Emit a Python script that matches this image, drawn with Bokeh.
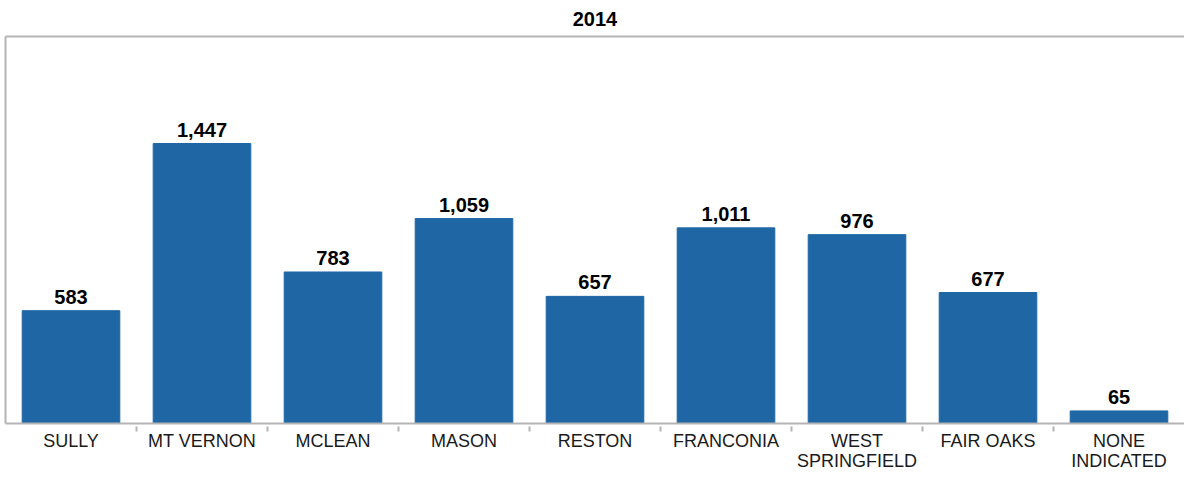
from bokeh.plotting import figure
from bokeh.models import (FactorRange, Range1d, LinearAxis, CategoricalAxis,
                          FixedTicker, ColumnDataSource, CustomJSTickFormatter)
from bokeh.core.properties import value
from bokeh.embed import file_html
from bokeh.resources import INLINE

header = "2014"
categories = ["SULLY", "MT VERNON", "MCLEAN", "MASON", "RESTON", "FRANCONIA",
              "WEST SPRINGFIELD", "FAIR OAKS", "NONE INDICATED"]
tick_labels = ["SULLY", "MT VERNON", "MCLEAN", "MASON", "RESTON", "FRANCONIA",
               "WEST\nSPRINGFIELD", "FAIR OAKS", "NONE\nINDICATED"]
counts = [583, 1447, 783, 1059, 657, 1011, 976, 677, 65]

FONT = "Liberation Sans"
GRAY = "#b4b4b4"
BAR = "#1f66a5"

src = ColumnDataSource(dict(cat=categories, val=counts,
                            lbl=[f"{v:,}" for v in counts]))

p = figure(x_range=FactorRange(*categories, range_padding=0),
           y_range=Range1d(0, 2000),
           width=1184, height=484, output_backend="svg",
           toolbar_location=None, x_axis_location=None, y_axis_location=None,
           min_border_left=5, min_border_right=0, min_border_top=36,
           min_border_bottom=61)
p.outline_line_color = None
p.grid.visible = False
p.background_fill_color = "white"
p.border_fill_color = "white"

# header axis (above)
top_axis = LinearAxis(ticker=FixedTicker(ticks=[]),
                      axis_label=header, axis_label_text_font=FONT,
                      axis_label_text_font_style="bold",
                      axis_label_text_font_size="20px",
                      axis_label_text_color="#000000",
                      axis_label_standoff=11,
                      axis_line_color=GRAY, axis_line_width=2,
                      major_tick_line_color=None, minor_tick_line_color=None,
                      major_tick_out=0, major_label_standoff=0,
                      major_label_text_font_size="0px",
                      major_label_text_color=None)
p.add_layout(top_axis, "above")

# left line
left_axis = LinearAxis(ticker=FixedTicker(ticks=[]), axis_line_color=GRAY,
                       axis_line_width=2,
                       major_tick_line_color=None, minor_tick_line_color=None,
                       major_tick_out=0, major_label_standoff=0,
                       major_label_text_font_size="0px",
                       major_label_text_color=None)
p.add_layout(left_axis, "left")

# baseline with separator ticks between categories (synthetic boundaries)
sep_axis = LinearAxis(ticker=FixedTicker(ticks=list(range(1, len(categories)))),
                      axis_line_color=GRAY, axis_line_width=2,
                      major_tick_line_color=GRAY, major_tick_line_width=2,
                      major_tick_in=-3, major_tick_out=8,
                      minor_tick_line_color=None, major_label_standoff=0,
                      major_label_text_font_size="0px",
                      major_label_text_color=None)
p.add_layout(sep_axis, "below")

# two rows of category labels
lines = [t.split("\n") for t in tick_labels]
row1 = {c: l[0] for c, l in zip(categories, lines)}
row2 = {c: (l[1] if len(l) > 1 else "") for c, l in zip(categories, lines)}

JS = """
const v = (m instanceof Map) ? m.get(tick) : m[tick];
return (v === undefined) ? "" : v;
"""

for mapping, standoff in ((row1, -1), (row2, -3)):
    ax = CategoricalAxis(axis_line_color=None, major_tick_line_color=None,
                         major_tick_out=0, major_tick_in=0,
                         major_label_standoff=standoff,
                         major_label_text_font=FONT,
                         major_label_text_font_size="18px",
                         major_label_text_color="#1a1a1a",
                         formatter=CustomJSTickFormatter(args=dict(m=mapping),
                                                         code=JS))
    p.add_layout(ax, "below")

p.vbar(x="cat", top="val", width=0.745, source=src, color=BAR)
p.text(x="cat", y="val", text="lbl", source=src, text_align="center",
       text_baseline="bottom", y_offset=-7, text_font=value(FONT),
       text_font_style="bold", text_font_size="20px", text_color="#000000")

open("out.html", "w").write(file_html(p, INLINE))
